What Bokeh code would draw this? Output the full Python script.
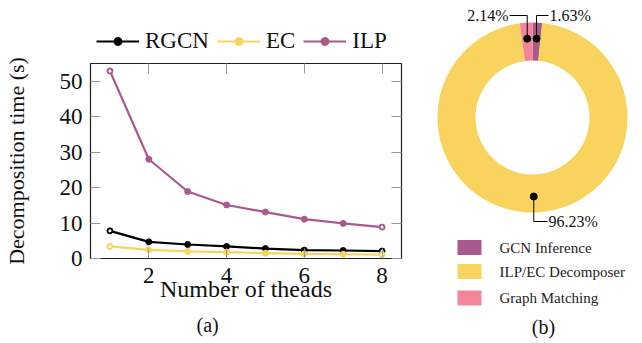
import numpy as np
from bokeh.plotting import figure
from bokeh.layouts import row, column
from bokeh.models import (Range1d, LinearAxis, Legend, LegendItem, Title,
                          ColumnDataSource)
from bokeh.embed import file_html
from bokeh.resources import INLINE

# ---------------- data ----------------
threads = [1, 2, 3, 4, 5, 6, 7, 8]
rgcn = [7.8, 4.7, 3.95, 3.4, 2.8, 2.35, 2.25, 2.1]
ec = [3.4, 2.45, 2.0, 1.8, 1.5, 1.3, 1.2, 1.1]
ilp = [52.9, 28.0, 18.9, 15.1, 13.1, 11.1, 9.9, 8.85]
x_ticks = [2, 4, 6, 8]
y_ticks = [0, 10, 20, 30, 40, 50]
series_names = ["RGCN", "EC", "ILP"]

pie_labels = ["GCN Inference", "ILP/EC Decomposer", "Graph Matching"]
pie_values = [1.63, 96.23, 2.14]
pie_texts = ["1.63%", "96.23%", "2.14%"]

BLACK = "#000000"
YELLOW = "#f8d45f"
PURPLE = "#a9598c"
PINK = "#f48599"
FONT = "Liberation Serif"
series_cols = [BLACK, YELLOW, PURPLE]
series_vals = [rgcn, ec, ilp]

# ---------------- legend strip above (a) ----------------
# (the strip's ranges lie away from the data, so only the legend keys show)
pl = figure(width=418, height=56, x_range=Range1d(100, 101), y_range=Range1d(100, 101),
            output_backend="svg", toolbar_location=None, min_border=0,
            x_axis_location=None, y_axis_location=None)
pl.frame_align = False
pl.grid.visible = False
pl.outline_line_color = None
items = []
for name, ys, col in zip(series_names, series_vals, series_cols):
    src = ColumnDataSource(dict(x=threads, y=ys))
    ln = pl.line("x", "y", source=src, line_color=col, line_width=2.2)
    sc = pl.scatter("x", "y", source=src, size=6, fill_color=col, line_color=col)
    items.append(LegendItem(label=name, renderers=[ln, sc]))
legend = Legend(items=items, orientation="horizontal", location=(96, 2),
                border_line_color=None, background_fill_alpha=0,
                label_text_font=FONT, label_text_font_size="23px",
                label_text_color="#111111",
                glyph_width=43, label_standoff=6, spacing=8, padding=0, margin=0)
pl.add_layout(legend, "center")

# ---------------- (a) line chart ----------------
p1 = figure(width=418, height=287, x_range=Range1d(0.5, 8.5), y_range=Range1d(0, 55),
            output_backend="svg", toolbar_location=None,
            min_border_left=88, min_border_right=17, min_border_top=7, min_border_bottom=85)
p1.frame_align = False
p1.grid.visible = False
p1.outline_line_color = "#222222"
p1.outline_line_width = 1.2

for ax in (p1.xaxis[0], p1.yaxis[0]):
    ax.axis_line_color = None
    ax.major_tick_in = 10
    ax.major_tick_out = 0
    ax.major_tick_line_color = "#999999"
    ax.minor_tick_line_color = None
    ax.major_label_text_font = FONT
    ax.major_label_text_font_size = "23px"
    ax.major_label_text_color = "#111111"
    ax.axis_label_text_font = FONT
    ax.axis_label_text_font_style = "normal"
    ax.axis_label_text_color = "#111111"
p1.xaxis[0].axis_label_text_font_size = "24px"
p1.yaxis[0].axis_label_text_font_size = "22px"
p1.xaxis[0].ticker = x_ticks
p1.yaxis[0].ticker = y_ticks
p1.xaxis[0].axis_label = "Number of theads"
p1.yaxis[0].axis_label = "Decomposition time (s)"
p1.xaxis[0].major_label_standoff = 9
p1.xaxis[0].axis_label_standoff = -10
p1.yaxis[0].major_label_standoff = 8
p1.yaxis[0].axis_label_standoff = 28

right_ax = LinearAxis(ticker=y_ticks)
top_ax = LinearAxis(ticker=x_ticks)
for ax in (right_ax, top_ax):
    ax.axis_line_color = None
    ax.major_tick_in = 10
    ax.major_tick_out = 0
    ax.major_tick_line_color = "#999999"
    ax.minor_tick_line_color = None
    ax.major_label_text_font_size = "0px"
    ax.major_label_standoff = 0
p1.add_layout(right_ax, "right")
p1.add_layout(top_ax, "above")

for ys, col in zip(series_vals, series_cols):
    src = ColumnDataSource(dict(x=threads, y=ys))
    p1.line("x", "y", source=src, line_color=col, line_width=2.2)
    p1.scatter("x", "y", source=src, size=6, fill_color=col, line_color=col)
    ends = ColumnDataSource(dict(x=[threads[0], threads[-1]], y=[ys[0], ys[-1]]))
    p1.scatter("x", "y", source=ends, size=3, fill_color="white", line_color=None)

p1.add_layout(Title(text="(a)", align="left", offset=106, standoff=14, text_font=FONT,
                    text_font_size="20px", text_font_style="normal",
                    text_color="#111111"), "below")

# ---------------- (b) donut ----------------
p2 = figure(width=224, height=343, x_range=Range1d(418, 642), y_range=Range1d(-343, 0),
            output_backend="svg", toolbar_location=None, min_border=0,
            x_axis_location=None, y_axis_location=None)
p2.frame_align = False
p2.grid.visible = False
p2.outline_line_color = None

cx, cy = 532, -117
r_in, r_out, r_dot = 57, 95, 79
vals = np.array(pie_values)
cum = np.concatenate([[0], np.cumsum(vals)]) / vals.sum()
starts = np.pi / 2 - cum[:-1] * 2 * np.pi
ends_a = np.pi / 2 - cum[1:] * 2 * np.pi
mids = (starts + ends_a) / 2
cols = [PURPLE, YELLOW, PINK]
p2.annular_wedge(x=cx, y=cy, inner_radius=r_in, outer_radius=r_out,
                 start_angle=list(starts), end_angle=list(ends_a), direction="clock",
                 fill_color=cols, line_color=None)

dx = cx + r_dot * np.cos(mids)
dy = cy + r_dot * np.sin(mids)
tops = [-15, -221, -15]
hends = [548, 547, 509]
xs_l = [[dx[i], dx[i], hends[i]] for i in range(3)]
ys_l = [[dy[i], tops[i], tops[i]] for i in range(3)]
p2.multi_line(xs_l, ys_l, line_color="black", line_width=1)
p2.scatter(list(dx), list(dy), size=7, fill_color="black", line_color="black")
aligns = ["left", "left", "right"]
for i in range(3):
    p2.text(x=[hends[i] + (1 if aligns[i] == "left" else -1)], y=[tops[i]], text=[pie_texts[i]],
            text_align=aligns[i], text_baseline="middle", text_font=FONT,
            text_font_size="16px", text_color="#111111")

leg_y = [-247, -271, -297.5]
p2.rect(x=[469] * 3, y=leg_y, width=24, height=15, fill_color=cols, line_color=None)
p2.text(x=[499] * 3, y=leg_y, text=pie_labels, text_align="left", text_baseline="middle",
        text_font=FONT, text_font_size="15px", text_color="#222222")

p2.text(x=[543], y=[-326], text=["(b)"], text_align="center", text_baseline="middle",
        text_font=FONT, text_font_size="20px", text_color="#111111")

layout = row(column(pl, p1), p2)
open("out.html", "w").write(file_html(layout, INLINE))
